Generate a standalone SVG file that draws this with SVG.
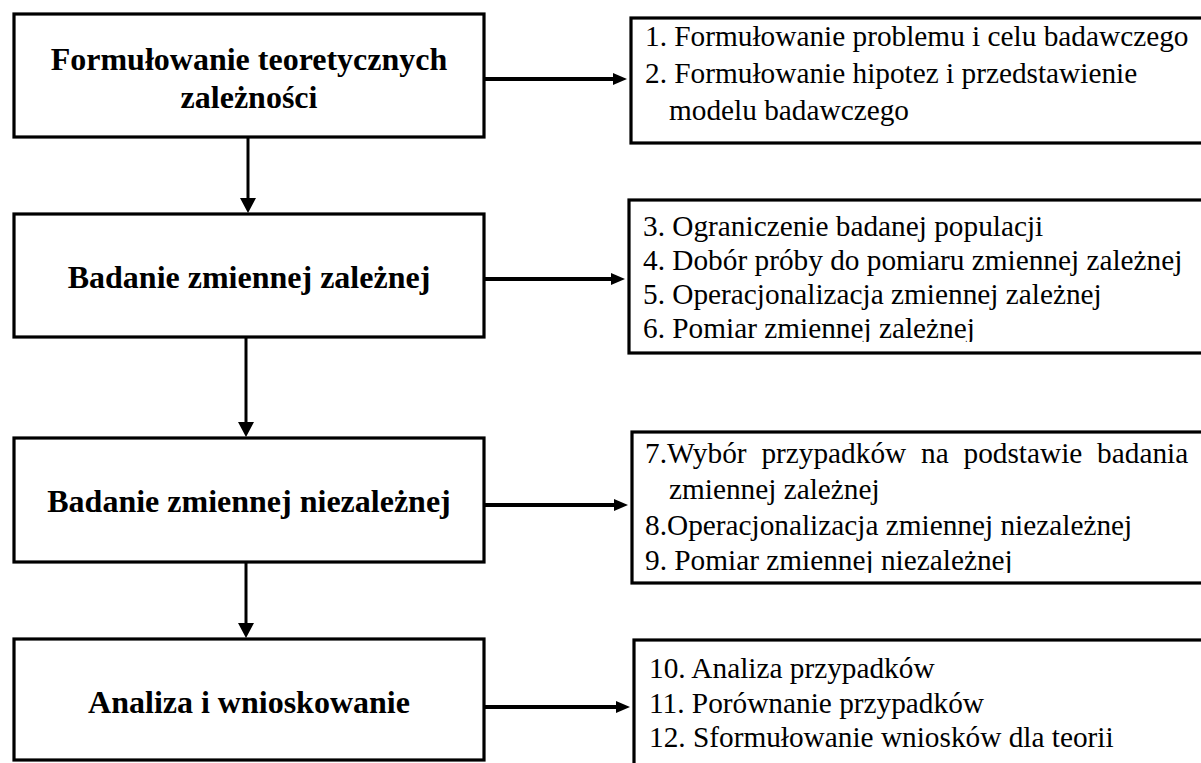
<svg xmlns="http://www.w3.org/2000/svg" width="1201" height="763" viewBox="0 0 1201 763">
<defs>
<style>
.box{fill:#fff;stroke:#000;stroke-width:3.2}
.h{font-family:"Liberation Serif","Times New Roman",serif;font-weight:bold;font-size:32px;fill:#000;text-anchor:middle}
.t{font-family:"Liberation Serif","Times New Roman",serif;font-size:29.3px;fill:#000}
.ch{stroke:#000;stroke-width:4;fill:none}
.cv{stroke:#000;stroke-width:3;fill:none}
</style>
<marker id="ahh" viewBox="0 0 14 12" refX="4" refY="6" markerWidth="14" markerHeight="12" orient="auto" markerUnits="userSpaceOnUse">
<path d="M0,0 L14,6 L0,12 z" fill="#000"/>
</marker>
<marker id="ahv" viewBox="0 0 15 16" refX="4" refY="8" markerWidth="15" markerHeight="16" orient="auto" markerUnits="userSpaceOnUse">
<path d="M0,0 L15,8 L0,16 z" fill="#000"/>
</marker>
<clipPath id="cR2"><rect x="629" y="200" width="600" height="142"/></clipPath>
<clipPath id="cR3"><rect x="632" y="432" width="600" height="141"/></clipPath>
</defs>
<rect width="1201" height="763" fill="#fff"/>
<g id="connectors">
<line class="ch" x1="484" y1="79" x2="617" y2="79" marker-end="url(#ahh)"/>
<line class="ch" x1="484" y1="279" x2="615" y2="279" marker-end="url(#ahh)"/>
<line class="ch" x1="484" y1="505" x2="618" y2="505" marker-end="url(#ahh)"/>
<line class="ch" x1="484" y1="707" x2="620" y2="707" marker-end="url(#ahh)"/>
<line class="cv" x1="248" y1="137" x2="248" y2="202" marker-end="url(#ahv)"/>
<line class="cv" x1="246" y1="337" x2="246" y2="426" marker-end="url(#ahv)"/>
<line class="cv" x1="246" y1="562" x2="246" y2="627" marker-end="url(#ahv)"/>
</g>
<g id="n1">
<rect class="box" x="14" y="14" width="470" height="123"/>
<text class="h" x="249" y="70">Formułowanie teoretycznych</text>
<text class="h" x="249" y="108">zależności</text>
</g>
<g id="n2">
<rect class="box" x="14" y="214" width="470" height="123"/>
<text class="h" x="249" y="288">Badanie zmiennej zależnej</text>
</g>
<g id="n3">
<rect class="box" x="14" y="438" width="470" height="124"/>
<text class="h" x="249" y="512">Badanie zmiennej niezależnej</text>
</g>
<g id="n4">
<rect class="box" x="14" y="639" width="470" height="121"/>
<text class="h" x="249" y="713">Analiza i wnioskowanie</text>
</g>
<g id="r1">
<rect class="box" x="631" y="18" width="600" height="125"/>
<text class="t" x="645" y="46">1. Formułowanie problemu i celu badawczego</text>
<text class="t" x="645" y="83">2. Formułowanie hipotez i przedstawienie</text>
<text class="t" x="669" y="120">modelu badawczego</text>
</g>
<g id="r2">
<rect class="box" x="629" y="200" width="600" height="153"/>
<g clip-path="url(#cR2)">
<text class="t" x="643" y="236">3. Ograniczenie badanej populacji</text>
<text class="t" x="643" y="270">4. Dobór próby do pomiaru zmiennej zależnej</text>
<text class="t" x="643" y="304">5. Operacjonalizacja zmiennej zależnej</text>
<text class="t" x="643" y="338">6. Pomiar zmiennej zależnej</text>
</g>
</g>
<g id="r3">
<rect class="box" x="632" y="432" width="600" height="151"/>
<g clip-path="url(#cR3)">
<text class="t" x="645" y="463" word-spacing="7.5">7.Wybór przypadków na podstawie badania</text>
<text class="t" x="669" y="499">zmiennej zależnej</text>
<text class="t" x="645" y="535">8.Operacjonalizacja zmiennej niezależnej</text>
<text class="t" x="645" y="570">9. Pomiar zmiennej niezależnej</text>
</g>
</g>
<g id="r4">
<rect class="box" x="634" y="640" width="600" height="140"/>
<text class="t" x="649" y="678">10. Analiza przypadków</text>
<text class="t" x="649" y="713">11. Porównanie przypadków</text>
<text class="t" x="649" y="747">12. Sformułowanie wniosków dla teorii</text>
</g>
</svg>
